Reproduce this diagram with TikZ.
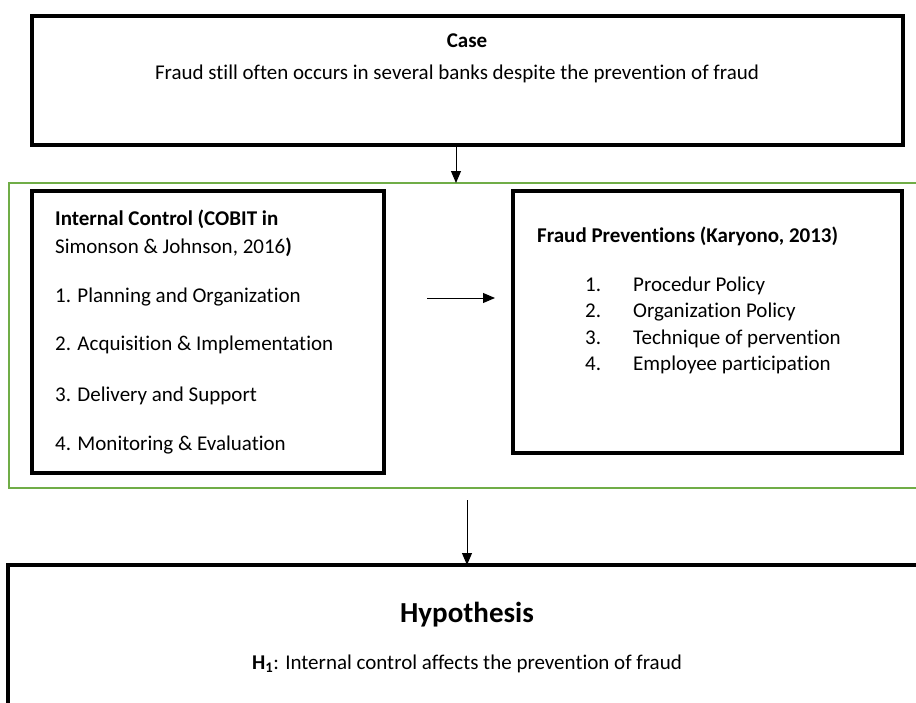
\documentclass[tikz,border=0pt]{standalone}
\usepackage{fontspec}
\setmainfont[Ligatures=NoCommon]{Carlito}
\usepackage{tikz}
\usetikzlibrary{arrows.meta}
\definecolor{framegreen}{rgb}{0.44,0.68,0.28}
\tikzstyle{blackbox}=[rectangle, draw, line width=4pt, anchor=north west, inner sep=0pt, outer sep=0pt]
\tikzstyle{greenbox}=[rectangle, draw=framegreen, line width=2.5pt, anchor=north west, inner sep=0pt, outer sep=0pt]
\tikzstyle{boxtxt}=[anchor=west, inner sep=0pt, text height=17pt, text depth=3pt, font=\fontsize{21}{25}\selectfont]
\tikzstyle{midtxt}=[anchor=center, inner sep=0pt, text height=17pt, text depth=3pt, font=\fontsize{21}{25}\selectfont]
\tikzstyle{arr}=[-{Triangle[length=12pt,width=10pt]}, line width=1pt]
\newcommand{\boxtxt}[3]{
	\node[boxtxt] (#1) at (#2) {#3};}

\begin{document}
\begin{tikzpicture}[x=1pt,y=-1pt]
\useasboundingbox (0,0) rectangle (916,702);
\clip (0,0) rectangle (916,702);

% case
\node[blackbox, minimum width=871pt, minimum height=129pt] (case) at (32,16) {};
\node[midtxt, font=\bfseries\fontsize{21}{25}\selectfont] (casetitle) at (467,40) {Case};
\node[midtxt] (casebody) at (457,72) {Fraud still often occurs in several banks despite the prevention of fraud};

% variables
\node[greenbox, minimum width=921pt, minimum height=305pt] (grp) at (9,183) {};
\node[blackbox, minimum width=352pt, minimum height=282pt] (ic) at (32,191) {};
\boxtxt{ic0}{55,218}{\bfseries Internal Control (COBIT in}
\boxtxt{ic00}{55,246}{Simonson \& Johnson, 2016\textbf{)}}
\boxtxt{ic1}{55,295}{1. Planning and Organization}
\boxtxt{ic2}{55,343}{2. Acquisition \& Implementation}
\boxtxt{ic3}{55,394}{3. Delivery and Support}
\boxtxt{ic4}{55,443}{4. Monitoring \& Evaluation}

\node[blackbox, minimum width=389pt, minimum height=262pt] (fp) at (513,191) {};
\boxtxt{fp0}{537,235}{\bfseries Fraud Preventions (Karyono, 2013)}
\boxtxt{fpn1}{585,284}{1.}
\boxtxt{fp1}{633,284}{Procedur Policy}
\boxtxt{fpn2}{585,310}{2.}
\boxtxt{fp2}{633,310}{Organization Policy}
\boxtxt{fpn3}{585,337}{3.}
\boxtxt{fp3}{633,337}{Technique of pervention}
\boxtxt{fpn4}{585,363}{4.}
\boxtxt{fp4}{633,363}{Employee participation}

% hypothesis
\node[blackbox, minimum width=918pt, minimum height=200pt] (hyp) at (8,565) {};
\node[midtxt, font=\bfseries\fontsize{29}{34}\selectfont] (hyptitle) at (467,615) {Hypothesis};
\node[midtxt] (hypbody) at (467,662) {\textbf{H\textsubscript{1}}: Internal control affects the prevention of fraud};

\coordinate (arrowx) at (456,0);
\coordinate (arrowy) at (0,298);
\draw[arr] (case.south -| arrowx) -- (grp.north -| arrowx);
\draw[arr, shorten <=43pt, shorten >=18pt] (ic.east |- arrowy) -- (fp.west |- arrowy);
\draw[arr, shorten <=12pt] (hyp.north |- grp.south) -- (hyp.north);
\end{tikzpicture}
\end{document}
